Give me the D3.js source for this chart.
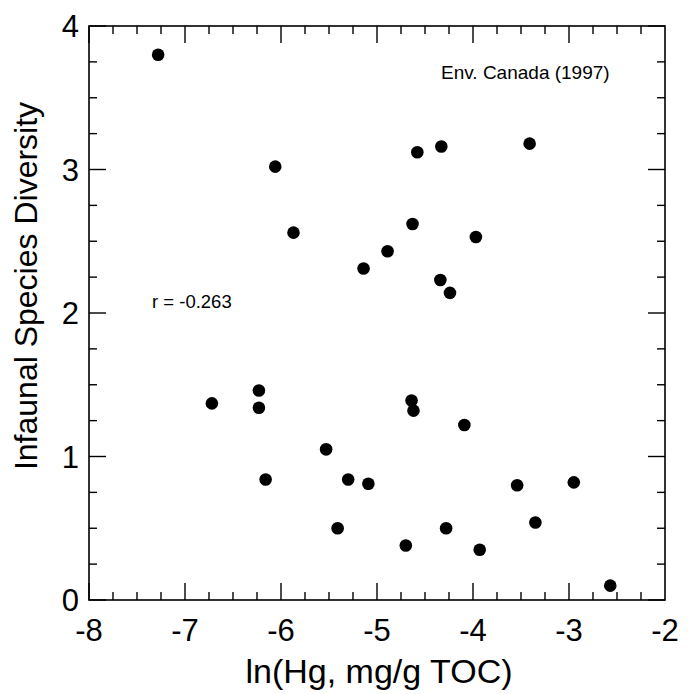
<!DOCTYPE html>
<html>
<head>
<meta charset="utf-8">
<script src="https://cdn.jsdelivr.net/npm/d3@7"></script>
<style>
  html, body { margin: 0; padding: 0; background: #fff; }
  svg { display: block; }
  text { font-family: "Liberation Sans", Arial, Helvetica, sans-serif; fill: #000; }
</style>
</head>
<body>
<svg id="chart" width="688" height="694"></svg>
<script>
// Data
const lnHg = [
  -7.28, -6.06, -5.87, -5.14,
  -4.58, -4.33, -3.41, -4.63, -4.89, -3.97, -4.34, -4.24,
  -6.72, -6.23, -6.23, -5.53, -6.16, -5.30, -5.09, -5.41,
  -4.64, -4.62, -4.09, -3.54, -2.95, -4.28, -3.35, -4.70, -3.93, -2.57
];
const diversity = [
  3.80, 3.02, 2.56, 2.31,
  3.12, 3.16, 3.18, 2.62, 2.43, 2.53, 2.23, 2.14,
  1.37, 1.46, 1.34, 1.05, 0.84, 0.84, 0.81, 0.50,
  1.39, 1.32, 1.22, 0.80, 0.82, 0.50, 0.54, 0.38, 0.35, 0.10
];
const xTicks = [-8, -7, -6, -5, -4, -3, -2];
const yTicks = [0, 1, 2, 3, 4];
const xTitle = "ln(Hg, mg/g TOC)";
const yTitle = "Infaunal Species Diversity";
const sourceNote = "Env. Canada (1997)";
const corrNote = "r = -0.263";

const svg = d3.select("#chart");
const L = 89, R = 665, T = 26, B = 600;

const x = d3.scaleLinear().domain([-8, -2]).range([L, R]);
const y = d3.scaleLinear().domain([0, 4]).range([B, T]);

const xMinor = d3.range(-8, -2.0001, 0.25);
const yMinor = d3.range(0, 4.0001, 0.25);
const isMajor = v => Math.abs(v - Math.round(v)) < 1e-6;
const MAJ = 17, MIN = 8;

// frame
svg.append("rect")
  .attr("x", L).attr("y", T).attr("width", R - L).attr("height", B - T)
  .attr("fill", "none").attr("stroke", "#000").attr("stroke-width", 1.6);

// ticks (inward, all four sides)
const tg = svg.append("g").attr("stroke", "#000").attr("stroke-width", 1.4);
xMinor.forEach(v => {
  const len = isMajor(v) ? MAJ : MIN;
  tg.append("line").attr("x1", x(v)).attr("x2", x(v)).attr("y1", B).attr("y2", B - len);
  tg.append("line").attr("x1", x(v)).attr("x2", x(v)).attr("y1", T).attr("y2", T + len);
});
yMinor.forEach(v => {
  const len = isMajor(v) ? MAJ : MIN;
  tg.append("line").attr("y1", y(v)).attr("y2", y(v)).attr("x1", L).attr("x2", L + len);
  tg.append("line").attr("y1", y(v)).attr("y2", y(v)).attr("x1", R).attr("x2", R - len);
});

// tick labels
svg.append("g").selectAll("text").data(xTicks).join("text")
  .attr("x", d => x(d)).attr("y", 641)
  .attr("text-anchor", "middle").attr("font-size", 31)
  .text(d => d);
svg.append("g").selectAll("text").data(yTicks).join("text")
  .attr("x", 79).attr("y", d => y(d) + 11)
  .attr("text-anchor", "end").attr("font-size", 31)
  .text(d => d);

// axis titles
svg.append("text")
  .attr("x", 379).attr("y", 683)
  .attr("text-anchor", "middle").attr("font-size", 34)
  .text(xTitle);
svg.append("text")
  .attr("transform", "translate(37,286) rotate(-90)")
  .attr("text-anchor", "middle").attr("font-size", 32)
  .text(yTitle);

// annotations
svg.append("text").attr("x", 441).attr("y", 79).attr("font-size", 19).text(sourceNote);
svg.append("text").attr("x", 152).attr("y", 308).attr("font-size", 18.5).text(corrNote);

// points
const pts = lnHg.map((v, i) => ({ x: v, y: diversity[i] }));
svg.append("g").selectAll("circle").data(pts).join("circle")
  .attr("cx", d => x(d.x)).attr("cy", d => y(d.y))
  .attr("r", 6.3).attr("fill", "#000");
</script>
</body>
</html>
